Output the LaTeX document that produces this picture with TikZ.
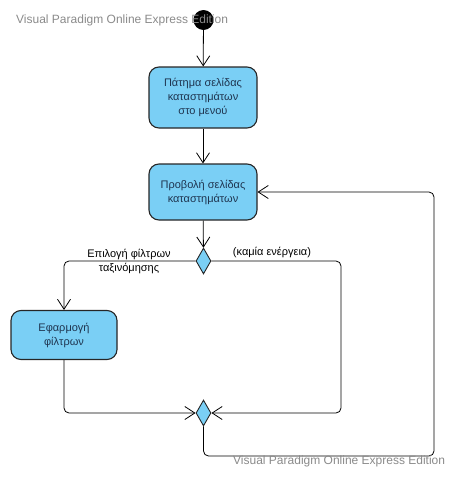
\documentclass[tikz,border=0pt]{standalone}
\usepackage{fontspec}
\setmainfont{Liberation Sans}
\usetikzlibrary{shapes.geometric,arrows.meta}
\definecolor{boxfill}{HTML}{7ACFF5}
\definecolor{boxtext}{HTML}{1F3550}
\definecolor{wm}{HTML}{8A8A8A}
\begin{document}
\begin{tikzpicture}[x=1pt,y=-1pt,
  act/.style={draw=black!85,line width=1.1pt,fill=boxfill,rounded corners=10pt,align=center,
    font=\fontsize{11}{14}\selectfont,text=boxtext,inner sep=0pt},
  dec/.style={draw=black!85,line width=0.9pt,fill=boxfill,diamond,inner sep=0pt,
    minimum width=15pt,minimum height=26pt},
  flow/.style={draw=black,line width=0.8pt,rounded corners=5pt,
    -{Straight Barb[length=10pt,width=13pt,line width=0.8pt]}},
  lbl/.style={font=\fontsize{11}{14}\selectfont,text=black,align=center,inner sep=0pt},
  wmark/.style={font=\fontsize{12}{14}\selectfont,text=wm,inner sep=0pt,anchor=west}]
\useasboundingbox (0,0) rectangle (460,482);
\node[circle,fill=black,minimum size=20pt,inner sep=0pt] (init) at (203.5,20) {};
\node[act,minimum width=108pt,minimum height=61pt] (box1) at (203,97.5) {Πάτημα σελίδας\\καταστημάτων\\στο μενού};
\node[act,minimum width=108pt,minimum height=56pt] (box2) at (203,192) {Προβολή σελίδας\\καταστημάτων};
\node[dec] (d1) at (203.5,261) {};
\node[act,minimum width=106pt,minimum height=49pt] (box3) at (64,335) {Εφαρμογή\\φίλτρων};
\node[dec] (d2) at (203.5,413) {};
\coordinate (r1) at (341,413);
\coordinate (b1) at (434,456);
\draw[flow] (init) -- (box1);
\draw[flow] (box1) -- (box2);
\draw[flow] (box2) -- (d1);
\draw[flow] (d1.west) -| (box3.north);
\draw[flow] (d1.east) -| (r1) -- (d2.east);
\draw[flow] (box3.south) |- (d2.west);
\draw[flow] (d2.south) |- (b1) |- (box2.east);
\node[lbl] (l1) at (129,261) {Επιλογή φίλτρων\\ταξινόμησης};
\node[lbl] (l2) at (272,252) {(καμία ενέργεια)};
\node[wmark] (w1) at (16,20.5) {Visual Paradigm Online Express Edition};
\node[wmark] (w2) at (233,461.5) {Visual Paradigm Online Express Edition};
\end{tikzpicture}
\end{document}
